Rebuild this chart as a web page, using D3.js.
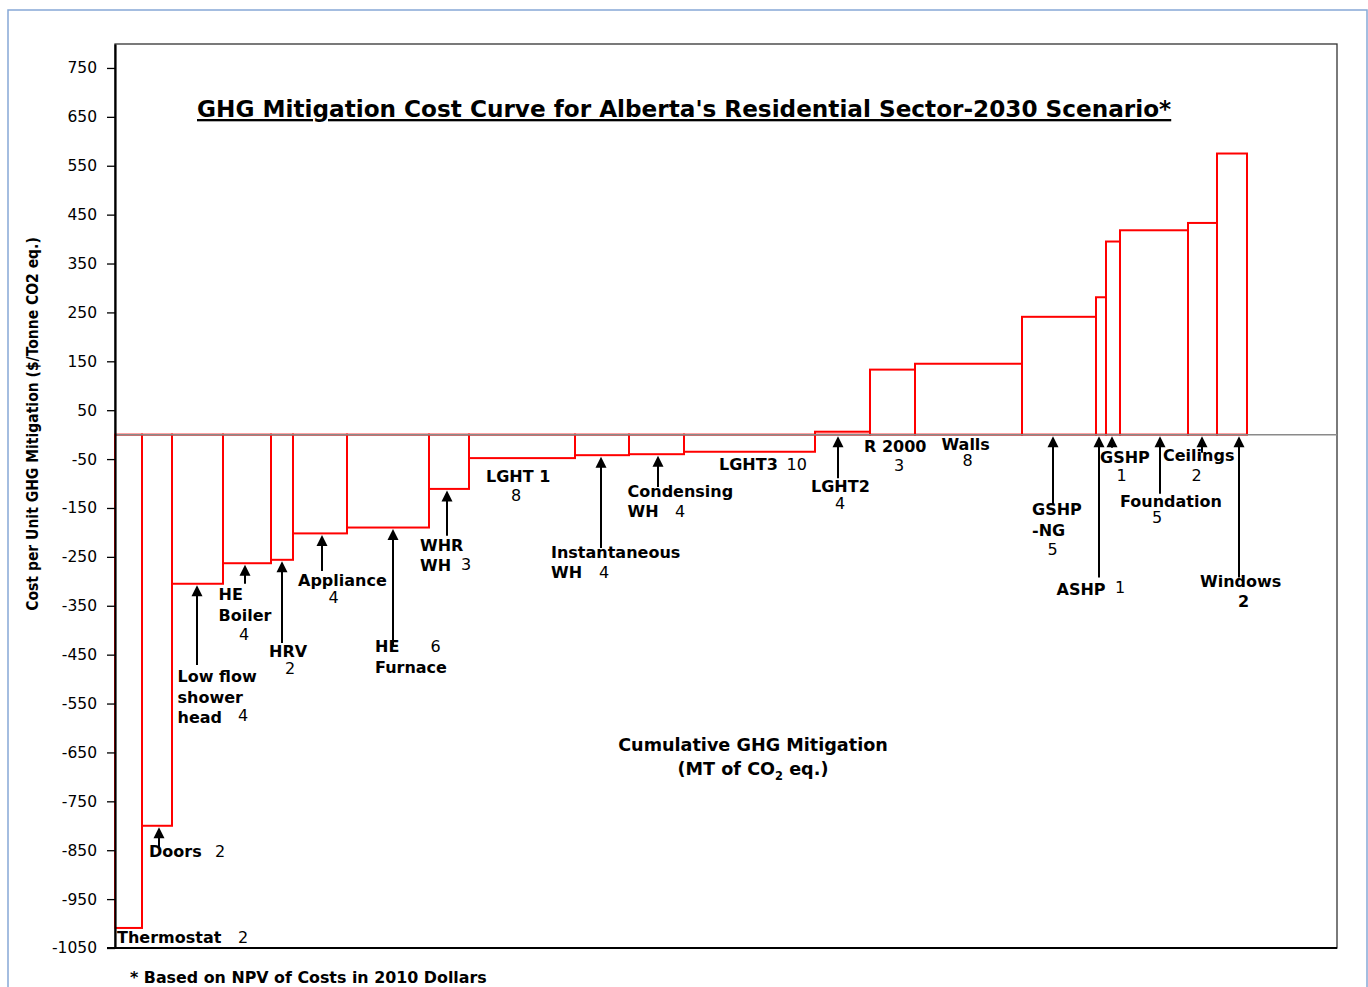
<!DOCTYPE html>
<html>
<head>
<meta charset="utf-8">
<script src="https://cdn.jsdelivr.net/npm/d3@7"></script>
<style>
  body { margin: 0; background: #fff; }
  .lbl { font-family: "DejaVu Sans", Verdana, sans-serif; font-size: 16px; fill: #000; }
  .tick text { font-family: "DejaVu Sans", Verdana, sans-serif; font-size: 15.5px; fill: #000; }
</style>
</head>
<body>
<div id="chart"></div>
<script>
// measures along the curve, in order of cost
var measures = ["Thermostat", "Doors", "Low flow shower head", "HE Boiler", "HRV", "Appliance",
  "HE Furnace", "WHR WH", "LGHT 1", "Instantaneous WH", "Condensing WH", "LGHT3", "LGHT2",
  "R 2000", "Walls", "GSHP-NG", "ASHP", "GSHP", "Foundation", "Ceilings", "Windows"];
// width of each step (mitigation, MT CO2 eq.)
var mitigation = [2.7, 3.0, 5.1, 4.8, 2.2, 5.4, 8.2, 4.0, 10.6, 5.4, 5.5, 13.1, 5.5, 4.5,
  10.7, 7.4, 1.0, 1.4, 6.8, 2.9, 3.0];
// cost per tonne ($/Tonne CO2 eq.)
var costs = [-1009, -800, -305, -263, -256, -202, -190, -111, -48, -42, -40, -35, 6, 133,
  145, 241, 281, 395, 418, 433, 575];
// number shown next to each label
var counts = [2, 2, 4, 4, 2, 4, 6, 3, 8, 4, 4, 10, 4, 3, 8, 5, 1, 1, 5, 2, 2];
var yTicks = d3.range(-1050, 751, 100);

// label layout in data units: arrow x / arrow foot, text lines [text, x, y, bold]
var notes = [
  {ax: null, lines: [["Thermostat", 0.2, -1040, 1], ["2", 12.3, -1040, 0]]},
  {ax: 4.4, ab: -845, lines: [["Doors", 3.4, -863, 1], ["2", 10.0, -863, 0]]},
  {ax: 8.2, ab: -471, lines: [["Low flow", 6.25, -505, 1], ["shower", 6.25, -548, 1], ["head", 6.25, -590, 1], ["4", 12.3, -585, 0]]},
  {ax: 13.0, ab: -305, lines: [["HE", 10.35, -338, 1], ["Boiler", 10.35, -381, 1], ["4", 12.4, -420, 0]]},
  {ax: 16.7, ab: -426, lines: [["HRV", 15.4, -455, 1], ["2", 17.0, -489, 0]]},
  {ax: 20.7, ab: -279, lines: [["Appliance", 18.3, -309, 1], ["4", 21.35, -344, 0]]},
  {ax: 27.8, ab: -433, lines: [["HE", 26.0, -445, 1], ["6", 31.55, -445, 0], ["Furnace", 26.0, -488, 1]]},
  {ax: 33.2, ab: -207, lines: [["WHR", 30.5, -238, 1], ["WH", 30.5, -279, 1], ["3", 34.6, -277, 0]]},
  {ax: null, lines: [["LGHT 1", 37.1, -97, 1], ["8", 39.6, -136, 0]]},
  {ax: 48.6, ab: -232, lines: [["Instantaneous", 43.6, -252, 1], ["WH", 43.6, -293, 1], ["4", 48.4, -293, 0]]},
  {ax: 54.3, ab: -107, lines: [["Condensing", 51.25, -127, 1], ["WH", 51.25, -169, 1], ["4", 56.0, -169, 0]]},
  {ax: null, lines: [["LGHT3", 60.4, -72, 1], ["10", 67.15, -72, 0]]},
  {ax: 72.3, ab: -89, lines: [["LGHT2", 69.6, -118, 1], ["4", 72.0, -152, 0]]},
  {ax: null, lines: [["R 2000", 74.9, -35, 1], ["3", 77.9, -74, 0]]},
  {ax: null, lines: [["Walls", 82.65, -31, 1], ["8", 84.75, -65, 0]]},
  {ax: 93.8, ab: -144, lines: [["GSHP", 91.7, -164, 1], ["-NG", 91.7, -207, 1], ["5", 93.25, -246, 0]]},
  {ax: 98.4, ab: -292, lines: [["ASHP", 94.15, -329, 1], ["1", 100.0, -324, 0]]},
  {ax: 99.7, ab: -27, lines: [["GSHP", 98.5, -59, 1], ["1", 100.15, -95, 0]]},
  {ax: 104.5, ab: -121, lines: [["Foundation", 100.5, -147, 1], ["5", 103.7, -181, 0]]},
  {ax: 108.7, ab: -37, lines: [["Ceilings", 104.8, -54, 1], ["2", 107.65, -94, 0]]},
  {ax: 112.4, ab: -292, lines: [["Windows", 108.5, -311, 1], ["2", 112.3, -353, 1]]}
];

var svgWidth = 1368, svgHeight = 987;
var margin = {top: 44, bottom: 39, left: 115, right: 31};
var chartWidth = svgWidth - margin.left - margin.right;
var chartHeight = svgHeight - margin.top - margin.bottom;

var svg = d3.select("#chart").append("svg")
    .attr("width", svgWidth)
    .attr("height", svgHeight);

// outer chart-area border
svg.append("rect")
    .attr("x", 8).attr("y", 10)
    .attr("width", 1359).attr("height", 1000)
    .attr("fill", "none")
    .attr("stroke", "#86a8d6")
    .attr("stroke-width", 1.5);

var chartGroup = svg.append("g")
    .attr("transform", `translate(${margin.left},${margin.top})`);

var xScale = d3.scaleLinear().domain([0, 122.2]).range([0, chartWidth]);
var yScale = d3.scaleLinear().domain([-1050, 799]).range([chartHeight, 0]);

var ends = Array.from(d3.cumsum(mitigation));
var steps = measures.map(function(m, i) {
  return {name: m, x0: ends[i] - mitigation[i], x1: ends[i], cost: costs[i], n: counts[i]};
});

// plot border (top/right)
chartGroup.append("rect")
    .attr("width", chartWidth).attr("height", chartHeight)
    .attr("fill", "none")
    .attr("stroke", "#333")
    .attr("stroke-width", 1.3);

// steps
chartGroup.append("g")
    .selectAll("rect")
    .data(steps)
    .enter()
    .append("rect")
        .attr("x", d => xScale(d.x0))
        .attr("width", d => xScale(d.x1) - xScale(d.x0))
        .attr("y", d => yScale(Math.max(d.cost, 0)))
        .attr("height", d => Math.abs(yScale(d.cost) - yScale(0)))
        .attr("fill", "none")
        .attr("stroke", "#ff0000")
        .attr("stroke-width", 2);

// zero line
chartGroup.append("line")
    .attr("x1", 0).attr("x2", chartWidth)
    .attr("y1", yScale(0)).attr("y2", yScale(0))
    .attr("stroke", "#8a8a8a")
    .attr("stroke-width", 1.5);

// y axis
var yAxis = d3.axisLeft(yScale)
    .tickValues(yTicks)
    .tickFormat(d => String(d))
    .tickSizeInner(8)
    .tickSizeOuter(0)
    .tickPadding(10);
var yg = chartGroup.append("g").call(yAxis);
yg.select(".domain").attr("stroke", "#000").attr("stroke-width", 2.2);
yg.selectAll(".tick line").attr("stroke", "#000").attr("stroke-width", 1.3);

// bottom line
chartGroup.append("line")
    .attr("x1", -8).attr("x2", chartWidth)
    .attr("y1", chartHeight).attr("y2", chartHeight)
    .attr("stroke", "#000")
    .attr("stroke-width", 2);

// arrows
var arrowGroup = chartGroup.append("g");
notes.forEach(function(nt, i) {
  if (nt.ax === null) return;
  var ax = xScale(nt.ax);
  var tip = yScale(Math.min(steps[i].cost, 0)) + 1.5;
  arrowGroup.append("line")
      .attr("x1", ax).attr("x2", ax)
      .attr("y1", yScale(nt.ab)).attr("y2", tip + 8)
      .attr("stroke", "#000")
      .attr("stroke-width", 2);
  arrowGroup.append("path")
      .attr("d", `M${ax},${tip} L${ax - 5.5},${tip + 11} L${ax + 5.5},${tip + 11} Z`)
      .attr("fill", "#000");
});

// labels
var labelGroup = chartGroup.append("g");
notes.forEach(function(nt) {
  nt.lines.forEach(function(l) {
    labelGroup.append("text")
        .attr("class", "lbl")
        .attr("x", xScale(l[1]))
        .attr("y", yScale(l[2]))
        .attr("font-weight", l[3] ? "bold" : "normal")
        .text(l[0]);
  });
});

// size text to a target width
function fitWidth(sel, w) {
  var fs = parseFloat(sel.attr("font-size"));
  var len = sel.node().getComputedTextLength();
  sel.attr("font-size", (fs * w / len).toFixed(2));
}

// title
var title = svg.append("text")
    .attr("x", 197).attr("y", 117)
    .attr("font-family", "'DejaVu Sans', Verdana, sans-serif")
    .attr("font-weight", "bold")
    .attr("font-size", 21)
    .attr("text-decoration", "underline")
    .text("GHG Mitigation Cost Curve for Alberta's Residential Sector-2030 Scenario*");
fitWidth(title, 975);

// x axis label
var xl1 = svg.append("text")
    .attr("x", 753).attr("y", 751)
    .attr("text-anchor", "middle")
    .attr("font-family", "'DejaVu Sans', Verdana, sans-serif")
    .attr("font-weight", "bold")
    .attr("font-size", 17)
    .text("Cumulative GHG Mitigation");
fitWidth(xl1, 270);
var fsx = xl1.attr("font-size");
var xl2 = svg.append("text")
    .attr("x", 753).attr("y", 775)
    .attr("text-anchor", "middle")
    .attr("font-family", "'DejaVu Sans', Verdana, sans-serif")
    .attr("font-weight", "bold")
    .attr("font-size", fsx);
xl2.append("tspan").text("(MT of CO");
xl2.append("tspan").attr("font-size", fsx * 0.65).attr("dy", 5).text("2");
xl2.append("tspan").attr("dy", -5).text(" eq.)");

// y axis label
var yl = svg.append("text")
    .attr("transform", "translate(38,424) rotate(-90)")
    .attr("text-anchor", "middle")
    .attr("font-family", "'DejaVu Sans Condensed', 'DejaVu Sans', sans-serif")
    .attr("font-weight", "bold")
    .attr("font-size", 17)
    .text("Cost per Unit GHG  Mitigation ($/Tonne CO2 eq.)");
fitWidth(yl, 374);

// footnote
var fn = svg.append("text")
    .attr("x", 130).attr("y", 983)
    .attr("font-family", "'DejaVu Sans', Verdana, sans-serif")
    .attr("font-weight", "bold")
    .attr("font-size", 14)
    .text("* Based on NPV of Costs in 2010 Dollars");
fitWidth(fn, 357);
</script>
</body>
</html>
